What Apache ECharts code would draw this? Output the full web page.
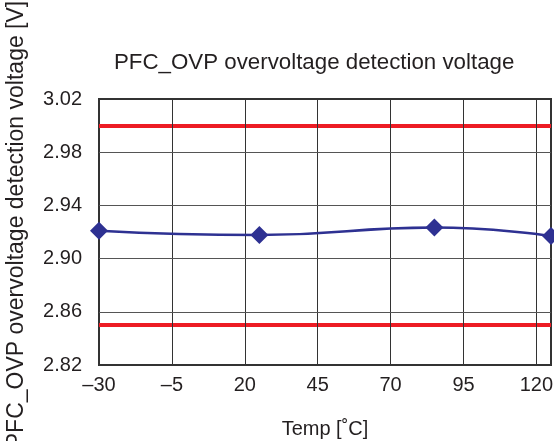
<!DOCTYPE html>
<html>
<head>
<meta charset="utf-8">
<script src="https://cdn.jsdelivr.net/npm/echarts@6/dist/echarts.min.js"></script>
<style>html,body{margin:0;padding:0;background:#fff}#c{width:554px;height:441px}</style>
</head>
<body>
<div id="c"></div>
<script>
var temps = [-30, 25, 85, 125];
var voltage = [2.921, 2.9177, 2.9233, 2.917];
var limits = [2.85, 2.995];
var xTicks = [-30, -5, 20, 45, 70, 95, 120];
var yTicks = [2.82, 2.86, 2.90, 2.94, 2.98, 3.02];
var xGrid = [-5, 20, 45, 70, 95, 120];
var yGrid = [2.86, 2.90, 2.94, 2.98];

var FONT = '"Liberation Sans", Arial, Helvetica, sans-serif';
var TXT = '#231f20';
var chart = echarts.init(document.getElementById('c'), null, {renderer: 'canvas'});

var pts = temps.map(function (t, i) { return [t, voltage[i]]; });

chart.setOption({
  animation: false,
  backgroundColor: '#fff',
  title: {
    text: 'PFC_OVP overvoltage detection voltage',
    left: 109, top: 47,
    textStyle: {fontFamily: FONT, fontSize: 22.3, fontWeight: 'normal', color: TXT}
  },
  grid: {left: 99, top: 99, right: 3, bottom: 76, show: true, borderColor: '#333', borderWidth: 2,
         backgroundColor: '#fff', containLabel: false, outerBoundsMode: 'none'},
  xAxis: {
    type: 'value', min: -30, max: 125,
    name: 'Temp [˚C]', nameLocation: 'middle', nameGap: 54,
    nameTextStyle: {fontFamily: FONT, fontSize: 20, color: TXT},
    axisLine: {show: true, onZero: false, lineStyle: {color: '#333', width: 2}},
    axisTick: {show: false},
    splitLine: {show: false},
    axisLabel: {
      customValues: xTicks, margin: 10,
      fontFamily: FONT, fontSize: 20, color: TXT,
      formatter: function (v) { return String(v).replace('-', '\u2013'); }
    }
  },
  yAxis: {
    type: 'value', min: 2.82, max: 3.02,
    name: 'PFC_OVP overvoltage detection voltage [V]', nameLocation: 'middle', nameGap: 71, nameRotate: 90,
    nameTextStyle: {fontFamily: FONT, fontSize: 23, color: TXT, padding: [0, 0, 0, 15]},
    axisLine: {show: true, onZero: false, lineStyle: {color: '#333', width: 2}},
    axisTick: {show: false},
    splitLine: {show: false},
    axisLabel: {
      customValues: yTicks, margin: 17,
      fontFamily: FONT, fontSize: 20, color: TXT,
      formatter: function (v) { return v.toFixed(2); }
    }
  },
  series: [
    {
      type: 'line', data: [], silent: true, z: 1,
      markLine: {
        silent: true, symbol: 'none', animation: false, label: {show: false},
        data: xGrid.map(function (x) { return {xAxis: x, lineStyle: {color: '#333', width: 1, type: 'solid'}}; })
          .concat(yGrid.map(function (y) { return {yAxis: y, lineStyle: {color: '#555', width: 1, type: 'solid'}}; }))
      }
    },
    {
      type: 'line', data: [], silent: true, z: 2,
      markLine: {
        silent: true, symbol: 'none', animation: false, label: {show: false}, z: 3,
        data: limits.map(function (y) { return {yAxis: y, lineStyle: {color: '#ed1c24', width: 4, type: 'solid'}}; })
      }
    },
    {
      type: 'line', data: pts, smooth: true, z: 5,
      symbol: 'diamond', symbolSize: 18,
      lineStyle: {color: '#2e3192', width: 2.5},
      itemStyle: {color: '#2e3192'},
      clip: true
    }
  ]
});
</script>
</body>
</html>
